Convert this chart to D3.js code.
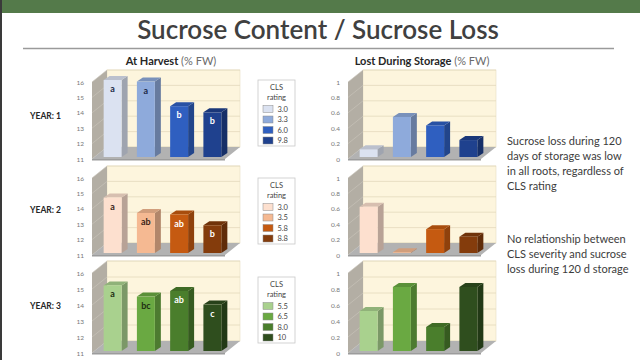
<!DOCTYPE html>
<html>
<head>
<meta charset="utf-8">
<script src="https://cdn.jsdelivr.net/npm/d3@7"></script>
<style>
  body { margin: 0; background: #fff; }
  svg { display: block; font-family: Lato, "Open Sans", sans-serif; }
</style>
</head>
<body>
<div id="chart"></div>
<script>
// data
var years = ["YEAR: 1", "YEAR: 2", "YEAR: 3"];
var clsRatings = [["3.0", "3.3", "6.0", "9.8"], ["3.0", "3.5", "5.8", "8.8"], ["5.5", "6.5", "8.0", "10"]];
var harvest = [[16.0, 15.9, 14.3, 13.9], [14.6, 13.6, 13.5, 12.8], [15.1, 14.4, 14.75, 13.9]];
var letters = [["a", "a", "b", "b"], ["a", "ab", "ab", "b"], ["a", "bc", "ab", "c"]];
var lost = [[0.1, 0.52, 0.41, 0.22], [0.6, 0.01, 0.31, 0.21], [0.5, 0.8, 0.3, 0.8]];
var harvestTicks = [11, 12, 13, 14, 15, 16];
var lostTicks = [0, 0.2, 0.4, 0.6, 0.8, 1];
var notes = [
  ["Sucrose loss during 120", "days of storage was low", "in all roots, regardless of", "CLS rating"],
  ["No relationship between", "CLS severity and sucrose", "loss during 120 d storage"]
];

var colors = [
  ["#dbe2f1", "#8eaadb", "#2f5fc0", "#1f418e"],
  ["#fde0cf", "#f5b992", "#c55a11", "#843c0c"],
  ["#a9d18e", "#6aa942", "#4a7e2c", "#2f4e1e"]
];
var letterFill = [
  ["#1c2a48", "#1c2a48", "#fff", "#fff"],
  ["#3a2418", "#3a2418", "#fff", "#fff"],
  ["#1e2e12", "#1e2e12", "#fff", "#fff"]
];

var W = 640, H = 360;
var svg = d3.select("#chart").append("svg")
    .attr("width", W)
    .attr("height", H);

// slide frame
svg.append("rect").attr("width", W).attr("height", H).attr("fill", "#fff");
svg.append("rect").attr("width", W).attr("height", 13).attr("fill", "#547a4a");
svg.append("rect").attr("width", 2).attr("height", H).attr("fill", "#3a3a3a");

svg.append("text")
    .attr("x", 318).attr("y", 39)
    .attr("text-anchor", "middle")
    .attr("font-size", 26)
    .attr("font-weight", 600)
    .attr("fill", "#404040")
    .text("Sucrose Content / Sucrose Loss");

svg.append("line")
    .attr("x1", 23).attr("x2", 614)
    .attr("y1", 48.5).attr("y2", 48.5)
    .attr("stroke", "#9a9a9a").attr("stroke-width", 1.5);

function header(x, bold, rest) {
  var t = svg.append("text")
      .attr("x", x).attr("y", 65)
      .attr("text-anchor", "middle")
      .attr("font-size", 11)
      .attr("fill", "#262626");
  t.append("tspan").attr("font-weight", 700).text(bold);
  t.append("tspan").attr("fill", "#6a6a6a").text(" " + rest);
}
header(171, "At Harvest", "(% FW)");
header(422, "Lost During Storage", "(% FW)");

// depth of the 3d box
var DX = 15, DY = -12;
var rowTop = [82, 178, 273];
var rowBot = [159, 255, 353];

function pts(a) { return a.map(function(p) { return p.join(","); }).join(" "); }

function shade(c, k) { return d3.color(c).darker(k).formatHex(); }

function drawPanel(r, x0, values, ticks, fmt, showLetters) {
  var g = svg.append("g");
  var x1 = x0 + 133;
  var y = d3.scaleLinear()
      .domain([ticks[0], ticks[ticks.length - 1]])
      .range([rowBot[r], rowTop[r]]);
  var x = d3.scaleBand()
      .domain(d3.range(values.length))
      .range([x0, x1])
      .paddingInner(0.46)
      .paddingOuter(0.23);

  var yb = y(ticks[0]), yt = y(ticks[ticks.length - 1]);

  // back wall
  g.append("rect")
      .attr("x", x0 + DX).attr("y", yt + DY)
      .attr("width", x1 - x0).attr("height", yb - yt)
      .attr("fill", "#fdf5dd")
      .attr("stroke", "#e6dcc2").attr("stroke-width", 0.6);
  // side wall
  g.append("polygon")
      .attr("points", pts([[x0, yt], [x0 + DX, yt + DY], [x0 + DX, yb + DY], [x0, yb]]))
      .attr("fill", "#b3aea4");
  // gridlines
  g.selectAll(".grid").data(ticks).enter().append("line")
      .attr("x1", x0 + DX).attr("x2", x1 + DX)
      .attr("y1", function(d) { return y(d) + DY; })
      .attr("y2", function(d) { return y(d) + DY; })
      .attr("stroke", "#e3d9bd").attr("stroke-width", 0.8);
  g.selectAll(".sgrid").data(ticks).enter().append("line")
      .attr("x1", x0).attr("x2", x0 + DX)
      .attr("y1", function(d) { return y(d); })
      .attr("y2", function(d) { return y(d) + DY; })
      .attr("stroke", "#cbc6bc").attr("stroke-width", 0.6);
  // floor
  g.append("polygon")
      .attr("points", pts([[x0, yb], [x1, yb], [x1 + DX, yb + DY], [x0 + DX, yb + DY]]))
      .attr("fill", "#b2b2b2");
  g.append("polygon")
      .attr("points", pts([[x0, yb], [x1, yb], [x1, yb + 1.5], [x0, yb + 1.5]]))
      .attr("fill", "#9c9c9c");

  // tick labels
  g.selectAll(".tick").data(ticks).enter().append("text")
      .attr("x", x0 - 8)
      .attr("y", function(d) { return y(d) + 2.5; })
      .attr("text-anchor", "end")
      .attr("font-size", 6.5)
      .attr("fill", "#777")
      .text(fmt);

  // bars
  var bw = x.bandwidth(), sd = 6, st = -4, sx = 4, sy = -2;
  values.forEach(function(v, i) {
    var c = colors[r][i];
    var bx = x(i) + sx;
    var top = y(v) + sy, bot = yb + sy;
    if (bot - top < 0.5) top = bot - 0.5;
    g.append("polygon")
        .attr("points", pts([[bx + bw, top], [bx + bw + sd, top + st], [bx + bw + sd, bot + st], [bx + bw, bot]]))
        .attr("fill", shade(c, 0.9));
    g.append("polygon")
        .attr("points", pts([[bx, top], [bx + sd, top + st], [bx + bw + sd, top + st], [bx + bw, top]]))
        .attr("fill", shade(c, 0.45));
    g.append("rect")
        .attr("x", bx).attr("y", top)
        .attr("width", bw).attr("height", bot - top)
        .attr("fill", c);
    if (showLetters) {
      g.append("text")
          .attr("x", bx + bw / 2).attr("y", top + 12)
          .attr("text-anchor", "middle")
          .attr("font-size", 9)
          .attr("font-weight", 700)
          .attr("fill", letterFill[r][i])
          .text(letters[r][i]);
    }
  });
}

// legends
var legTop = [80, 178, 277];
function drawLegend(r) {
  var g = svg.append("g").attr("transform", "translate(258," + legTop[r] + ")");
  g.append("rect")
      .attr("width", 37).attr("height", 66)
      .attr("fill", "#fff")
      .attr("stroke", "#c8c8c8").attr("stroke-width", 0.8);
  g.append("text").attr("x", 18.5).attr("y", 9.5).attr("text-anchor", "middle")
      .attr("font-size", 7.5).attr("fill", "#444").text("CLS");
  g.append("text").attr("x", 18.5).attr("y", 19.5).attr("text-anchor", "middle")
      .attr("font-size", 7.5).attr("fill", "#444").text("rating");
  clsRatings[r].forEach(function(lbl, i) {
    var cy = 29 + i * 10.5;
    g.append("rect")
        .attr("x", 5).attr("y", cy - 3.5)
        .attr("width", 10).attr("height", 7)
        .attr("fill", colors[r][i])
        .attr("stroke", "#8a8a8a").attr("stroke-width", 0.5);
    g.append("text")
        .attr("x", 19.5).attr("y", cy + 2.8)
        .attr("font-size", 7.5).attr("fill", "#444")
        .text(lbl);
  });
}

var rowLabelY = [119, 213, 309];
years.forEach(function(lbl, r) {
  svg.append("text")
      .attr("x", 30).attr("y", rowLabelY[r])
      .attr("font-size", 8.5)
      .attr("font-weight", 700)
      .attr("fill", "#262626")
      .text(lbl);
  drawPanel(r, 92, harvest[r], harvestTicks, function(d) { return d; }, true);
  drawPanel(r, 348, lost[r], lostTicks, function(d) { return d; }, false);
  drawLegend(r);
});

// notes
var noteY = [145, 243];
notes.forEach(function(lines, k) {
  svg.append("g").selectAll("text").data(lines).enter().append("text")
      .attr("x", 507)
      .attr("y", function(d, i) { return noteY[k] + i * 15; })
      .attr("font-size", 11)
      .attr("fill", "#3c3c3c")
      .text(function(d) { return d; });
});
</script>
</body>
</html>
